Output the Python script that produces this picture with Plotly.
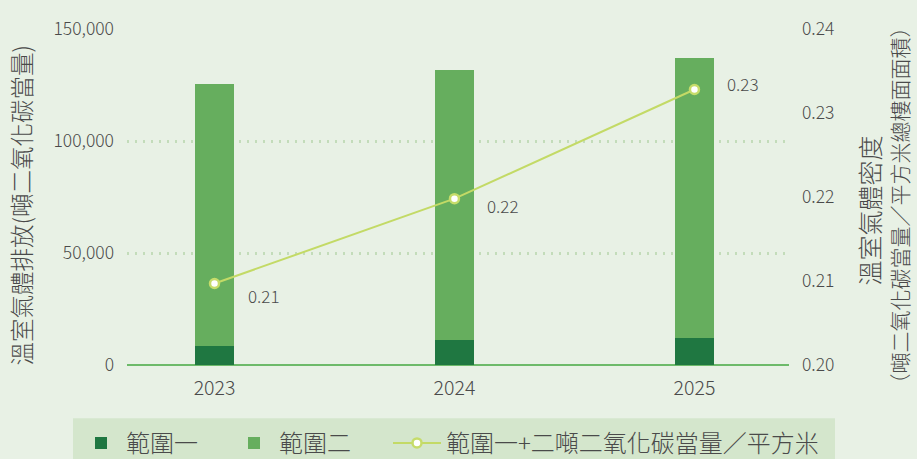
import plotly.graph_objects as go

years = ["2023", "2024", "2025"]
scope1 = [8350, 11030, 11920]
scope2 = [117250, 120530, 125000]
intensity = [0.2097, 0.2198, 0.2328]
intensity_labels = ["0.21", "0.22", "0.23"]
left_ticks = [0, 50000, 100000, 150000]
right_ticks = [0.20, 0.21, 0.22, 0.23, 0.24]

FONT = "Noto Sans CJK TC"
TXT = "#4a4a4a"

fig = go.Figure()
fig.add_trace(go.Bar(x=years, y=scope1, name="範圍一", marker_color="#1f7741",
                     marker_line_width=0, width=0.1625, legend="legend"))
fig.add_trace(go.Bar(x=years, y=scope2, name="範圍二", marker_color="#66ae5e",
                     marker_line_width=0, width=0.1625, legend="legend"))
fig.add_trace(go.Scatter(x=years, y=intensity, name="範圍一+二噸二氧化碳當量／平方米",
                         yaxis="y2", mode="lines+markers", legend="legend2",
                         line=dict(color="#c3da66", width=2),
                         marker=dict(size=9, color="white", line=dict(color="#c6dc6a", width=2.5))))

label_yshift = [-12, -7, 6]
for i, (y, t, ys) in enumerate(zip(intensity, intensity_labels, label_yshift)):
    fig.add_annotation(x=i, y=y, xref="x", yref="y2", text=t, showarrow=False,
                       xshift=49, yshift=ys, font=dict(family=FONT, size=17, color=TXT, weight=300))

fig.add_annotation(xref="paper", yref="paper", x=(2 - 127) / 662, y=0.475, textangle=-90,
                   xanchor="left",
                   text="溫室氣體排放(噸二氧化碳當量)", showarrow=False,
                   font=dict(family=FONT, size=23.5, color=TXT, weight=300))
fig.add_annotation(xref="paper", yref="paper", x=(869 - 127) / 662, y=0.46, textangle=-90,
                   xanchor="center",
                   text="溫室氣體密度", showarrow=False,
                   font=dict(family=FONT, size=25, color=TXT, weight=300))
fig.add_annotation(xref="paper", yref="paper", x=(899 - 127) / 662, y=0.475, textangle=-90,
                   xanchor="center",
                   text="（噸二氧化碳當量／平方米總樓面面積）", showarrow=False,
                   font=dict(family=FONT, size=21, color=TXT, weight=300))

fig.add_shape(type="rect", xref="paper", yref="paper", x0=(73 - 127) / 662, x1=(835 - 127) / 662,
              y0=(364.7 - 418) / 336, y1=-0.4, fillcolor="#d4e6cc", line_width=0, layer="below")

legend_font = dict(family=FONT, size=24, color=TXT, weight=300)
fig.update_layout(
    width=917, height=459,
    margin=dict(l=127, r=128, t=29, b=94, autoexpand=False),
    paper_bgcolor="#e8f1e5", plot_bgcolor="#e8f1e5",
    barmode="stack",
    showlegend=True,
    legend=dict(orientation="h", x=(76 - 127) / 662, xanchor="left",
                y=(364.7 - 443) / 336, yanchor="middle", entrywidth=98,
                itemwidth=40, bgcolor="rgba(0,0,0,0)", font=legend_font,
                traceorder="normal"),
    legend2=dict(orientation="h", x=(388 - 127) / 662, xanchor="left",
                 y=(364.7 - 443) / 336, yanchor="middle",
                 itemwidth=48, bgcolor="rgba(0,0,0,0)", font=legend_font),
    font=dict(family=FONT, color=TXT),
    xaxis=dict(type="category", range=[-0.3646, 2.394], showgrid=False, zeroline=False,
               showline=False, ticks="", tickfont=dict(family=FONT, size=19.5, color=TXT, weight=300),
               ticklabelstandoff=9),
    yaxis=dict(range=[0, 150000], tickvals=left_ticks, tickformat=",", showgrid=True,
               gridcolor="#c3dcba", griddash="2px,6px", gridwidth=2.5,
               zeroline=True, zerolinecolor="#6dba6a", zerolinewidth=2,
               ticks="", ticklabelstandoff=12,
               tickfont=dict(family=FONT, size=17.5, color=TXT, weight=300)),
    yaxis2=dict(range=[0.20, 0.24], tickvals=right_ticks, tickformat=".2f", overlaying="y",
                side="right", showgrid=False, zeroline=False, ticks="", ticklabelstandoff=12,
                tickfont=dict(family=FONT, size=17.5, color=TXT, weight=300)),
)

fig.write_html("out.html", config={"displayModeBar": False},
               post_script="document.body.style.margin='0';")
